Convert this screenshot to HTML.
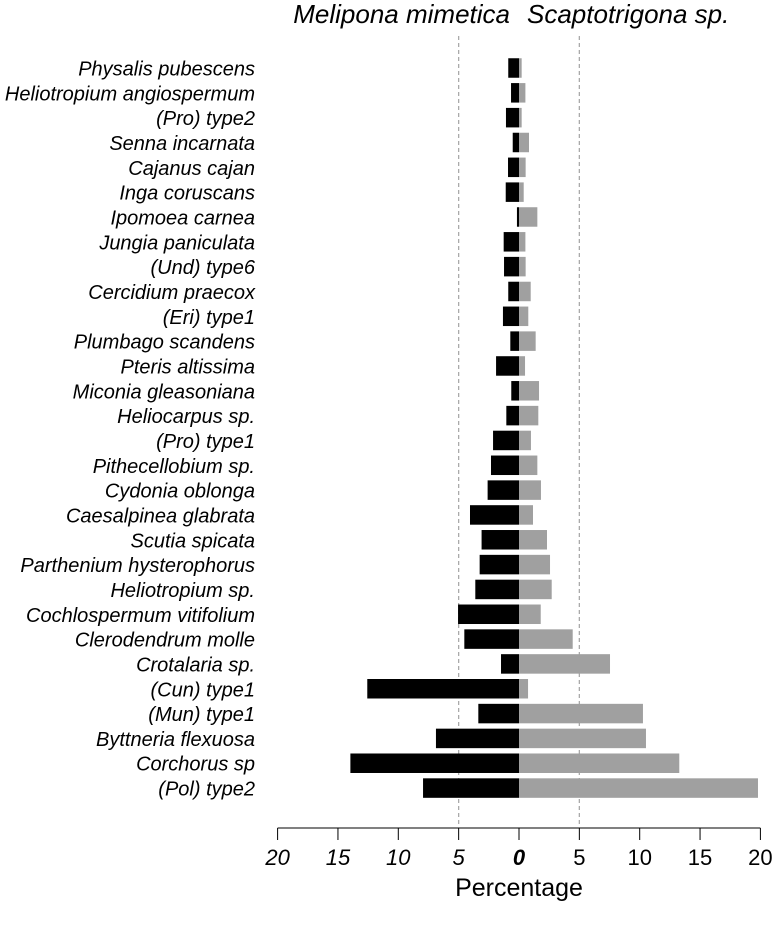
<!DOCTYPE html>
<html><head><meta charset="utf-8"><style>
body{margin:0;background:#fff;}
svg text{font-family:"Liberation Sans",Arial,sans-serif;}
</style></head><body>
<svg id="chart" width="776" height="935" viewBox="0 0 776 935" xmlns="http://www.w3.org/2000/svg">
<text x="510" y="23" font-size="26" font-style="italic" text-anchor="end">Melipona mimetica</text>
<text x="527" y="23" font-size="26" font-style="italic">Scaptotrigona sp.</text>
<g id="grid"></g>
<g id="bars"></g>
<g id="labels"></g>
<g id="axis"></g>
<text x="519" y="896" font-size="25" text-anchor="middle">Percentage</text>
</svg>
<script>
const categories = ["Physalis pubescens","Heliotropium angiospermum","(Pro) type2","Senna incarnata","Cajanus cajan","Inga coruscans","Ipomoea carnea","Jungia paniculata","(Und) type6","Cercidium praecox","(Eri) type1","Plumbago scandens","Pteris altissima","Miconia gleasoniana","Heliocarpus sp.","(Pro) type1","Pithecellobium sp.","Cydonia oblonga","Caesalpinea glabrata","Scutia spicata","Parthenium hysterophorus","Heliotropium sp.","Cochlospermum  vitifolium","Clerodendrum molle","Crotalaria sp.","(Cun) type1","(Mun) type1","Byttneria flexuosa","Corchorus sp","(Pol) type2"];
const meliponaValues = [0.89,0.66,1.08,0.52,0.91,1.1,0.17,1.27,1.24,0.89,1.33,0.72,1.9,0.64,1.05,2.15,2.32,2.6,4.06,3.1,3.26,3.62,5.05,4.53,1.49,12.57,3.37,6.88,13.97,7.95];
const scaptoValues = [0.22,0.53,0.22,0.83,0.55,0.39,1.52,0.53,0.55,0.97,0.77,1.38,0.5,1.66,1.6,0.99,1.52,1.82,1.16,2.32,2.57,2.71,1.8,4.45,7.54,0.75,10.27,10.52,13.28,19.8];
const tickValues = [-20,-15,-10,-5,0,5,10,15,20];
const tickLabels = ["20","15","10","5","0","5","10","15","20"];
const refLines = [-5,5];

const NS="http://www.w3.org/2000/svg";
const x0=519, pxPerUnit=12.07;
const xs=v=>x0+v*pxPerUnit;
const ys=i=>68+i*24.83;
const barH=19.5;
function mk(tag,attrs,parent){const e=document.createElementNS(NS,tag);for(const k in attrs)e.setAttribute(k,attrs[k]);parent.appendChild(e);return e;}
const grid=document.getElementById('grid'),bars=document.getElementById('bars'),labels=document.getElementById('labels'),axis=document.getElementById('axis');
refLines.forEach(v=>{
  const l=mk('line',{x1:xs(v),x2:xs(v),y1:36,y2:826,stroke:'#aaa','stroke-width':1.3,'stroke-dasharray':'4,3'},grid);
  
  
});
categories.forEach((c,i)=>{
  const y=ys(i);
  const lb=mk('rect',{x:xs(-meliponaValues[i]),y:y-barH/2,width:meliponaValues[i]*pxPerUnit,height:barH,fill:'#000'},bars);
  
  
  const rb=mk('rect',{x:x0,y:y-barH/2,width:scaptoValues[i]*pxPerUnit,height:barH,fill:'#a0a0a0'},bars);
  
  
  const t=mk('text',{x:255,y:y+7.5,'font-size':20,'font-style':'italic','text-anchor':'end'},labels);
  t.textContent=c;
  
  
});
mk('line',{x1:xs(-20),x2:xs(20),y1:828,y2:828,stroke:'#000','stroke-width':1},axis);
tickValues.forEach((v,i)=>{
  mk('line',{x1:xs(v),x2:xs(v),y1:828,y2:840,stroke:'#000','stroke-width':1},axis);
  const t=mk('text',{x:xs(v),y:865,'font-size':22,'font-style':v<=0?'italic':'normal','text-anchor':'middle','font-weight':v===0?'bold':'normal'},axis);
  t.textContent=tickLabels[i];
  
  
});
</script>
</body></html>
